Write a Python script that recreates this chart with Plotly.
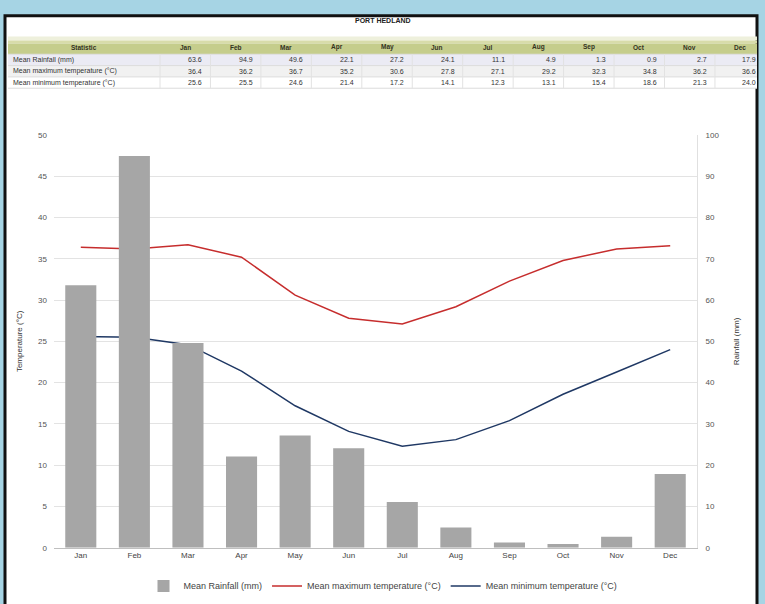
import plotly.graph_objects as go

W, H = 765, 604

months = ["Jan", "Feb", "Mar", "Apr", "May", "Jun", "Jul", "Aug", "Sep", "Oct", "Nov", "Dec"]
rainfall = [63.6, 94.9, 49.6, 22.1, 27.2, 24.1, 11.1, 4.9, 1.3, 0.9, 2.7, 17.9]
max_temp = [36.4, 36.2, 36.7, 35.2, 30.6, 27.8, 27.1, 29.2, 32.3, 34.8, 36.2, 36.6]
min_temp = [25.6, 25.5, 24.6, 21.4, 17.2, 14.1, 12.3, 13.1, 15.4, 18.6, 21.3, 24.0]

row_labels = ["Mean Rainfall (mm)", "Mean maximum temperature (°C)", "Mean minimum temperature (°C)"]
temp_ticks = [0, 5, 10, 15, 20, 25, 30, 35, 40, 45, 50]
rain_ticks = [0, 10, 20, 30, 40, 50, 60, 70, 80, 90, 100]

FONT = "Liberation Sans, Arial, sans-serif"


def px(x):
    return x / W


def py(y):
    return 1 - y / H


fig = go.Figure()

fig.add_trace(go.Bar(
    x=months, y=rainfall, name="Mean Rainfall (mm)", yaxis="y2",
    marker=dict(color="#a6a6a6", line=dict(width=0)), width=0.58,
))
fig.add_trace(go.Scatter(
    x=months, y=max_temp, name="Mean maximum temperature (°C)", mode="lines",
    line=dict(color="#c62d2d", width=1.5),
))
fig.add_trace(go.Scatter(
    x=months, y=min_temp, name="Mean minimum temperature (°C)", mode="lines",
    line=dict(color="#1f3864", width=1.5),
))

# ---- summary table drawn with shapes + annotations ----
shapes = [dict(type="rect", xref="paper", yref="paper", x0=px(5), x1=px(757), y0=py(650), y1=py(12),
               fillcolor="#ffffff", line=dict(color="#111111", width=3), layer="below")]
annotations = [dict(text="<b>PORT HEDLAND</b>", xref="paper", yref="paper", x=px(383), y=py(17),
                    showarrow=False, font=dict(size=7, color="#222222"), xanchor="center", yanchor="middle")]

T_X0, T_X1 = 8, 757
C0 = 160          # end of the statistic column
CW = 50.45        # month column width
hdr_top, hdr_bot = 37, 51
row_edges = [51, 62.5, 74, 85.5]
row_fill = ["#ebebf4", "#f1f1f1", "#ffffff"]

# header band (slight gradient)
for (a, b, c) in [(33, 37, "#eef0dc"), (37, 40, "#d8dcaa"), (40, 51, "#c5cd8c")]:
    shapes.append(dict(type="rect", xref="paper", yref="paper", x0=px(T_X0), x1=px(T_X1),
                       y0=py(b), y1=py(a), fillcolor=c, line=dict(width=0), layer="below"))
for r in range(3):
    shapes.append(dict(type="rect", xref="paper", yref="paper", x0=px(T_X0), x1=px(T_X1),
                       y0=py(row_edges[r + 1]), y1=py(row_edges[r]), fillcolor=row_fill[r],
                       line=dict(width=0), layer="below"))
# cell separators
for e in row_edges:
    shapes.append(dict(type="line", xref="paper", yref="paper", x0=px(T_X0), x1=px(T_X1),
                       y0=py(e), y1=py(e), line=dict(color="#dcdcdc", width=1), layer="below"))
for i in range(12):
    xe = C0 + CW * i
    shapes.append(dict(type="line", xref="paper", yref="paper", x0=px(xe), x1=px(xe),
                       y0=py(row_edges[-1]), y1=py(row_edges[0]), line=dict(color="#e2e2e2", width=1),
                       layer="below"))

hdr_y = (hdr_top + hdr_bot) / 2
annotations.append(dict(text="<b>Statistic</b>", xref="paper", yref="paper", x=px((T_X0 + C0) / 2), y=py(hdr_y),
                        showarrow=False, font=dict(size=6.5, color="#33331e"), xanchor="center", yanchor="middle"))
for i, m in enumerate(months):
    cx = C0 + CW * (i + 0.5)
    annotations.append(dict(text="<b>%s</b>" % m, xref="paper", yref="paper", x=px(cx), y=py(hdr_y),
                            showarrow=False, font=dict(size=6.5, color="#33331e"),
                            xanchor="center", yanchor="middle"))

table_rows = [rainfall, max_temp, min_temp]
for r in range(3):
    ry = (row_edges[r] + row_edges[r + 1]) / 2
    annotations.append(dict(text=row_labels[r], xref="paper", yref="paper", x=px(T_X0 + 3), y=py(ry),
                            showarrow=False, font=dict(size=7, color="#333333"),
                            xanchor="left", yanchor="middle"))
    for i in range(12):
        xr = min(C0 + CW * (i + 1) - 6, 758)
        annotations.append(dict(text=f"{table_rows[r][i]:.1f}", xref="paper", yref="paper", x=px(xr),
                                y=py(ry), showarrow=False, font=dict(size=7, color="#333333"),
                                xanchor="right", yanchor="middle"))

fig.update_layout(
    width=W, height=H,
    margin=dict(l=0, r=0, t=0, b=0),
    paper_bgcolor="#a6d4e4",
    plot_bgcolor="rgba(0,0,0,0)",
    font=dict(family=FONT, size=8, color="#444444"),
    showlegend=True,
    xaxis=dict(domain=[px(54), px(697)], anchor="y", showgrid=False, showline=True,
               linecolor="#bfbfbf", ticks="", tickfont=dict(size=8, color="#444444")),
    yaxis=dict(domain=[py(552), py(133)], range=[0, 50], tickvals=temp_ticks,
               showgrid=True, gridcolor="#e3e3e3", zeroline=False, showline=False,
               ticks="", ticklabelstandoff=6, tickfont=dict(size=8, color="#555555"),
               title=dict(text="Temperature (°C)", font=dict(size=8, color="#333333"), standoff=14)),
    yaxis2=dict(overlaying="y", side="right", anchor="x", range=[0, 100], tickvals=rain_ticks,
                showgrid=False, zeroline=False, showline=True, linecolor="#e0e0e0",
                ticks="", ticklabelstandoff=6, tickfont=dict(size=8, color="#555555"),
                title=dict(text="Rainfall (mm)", font=dict(size=8, color="#333333"), standoff=14)),
    legend=dict(orientation="h", x=px(383), xanchor="center", y=py(576), yanchor="top",
                font=dict(size=9, color="#444444"), bgcolor="rgba(0,0,0,0)",
                traceorder="normal", itemwidth=30),
    shapes=shapes,
    annotations=annotations,
)

fig.write_html("out.html", config={"displayModeBar": False},
               post_script="document.body.style.margin='0px';document.body.style.overflow='hidden';")
